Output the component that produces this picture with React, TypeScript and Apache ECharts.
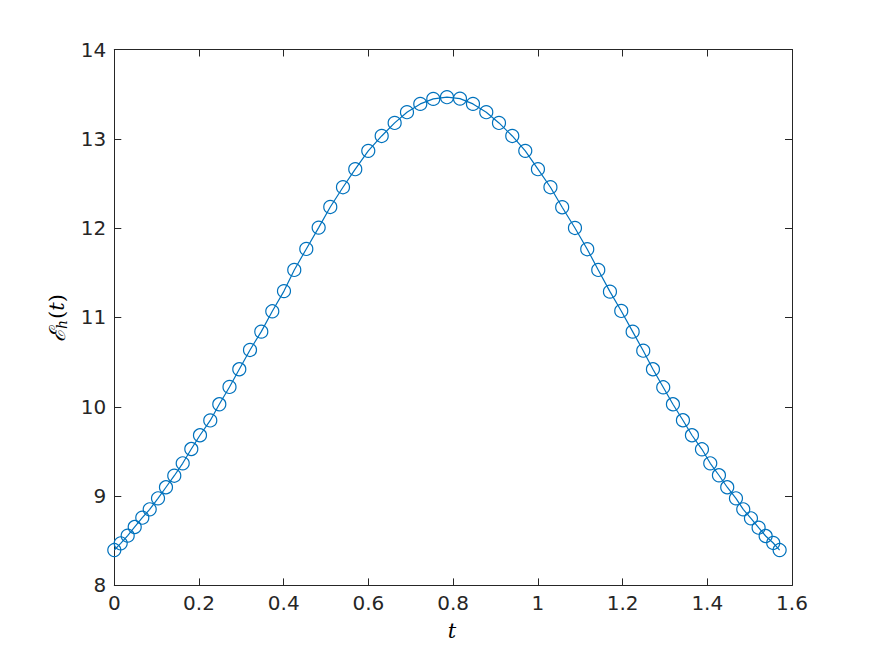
import React, { useEffect, useRef } from "react";
import * as echarts from "echarts";

const tValues = [
  0, 0.0151, 0.0316, 0.0482, 0.0661, 0.0836, 0.1032, 0.122, 0.1416, 0.1615,
  0.1818, 0.2023, 0.2266, 0.2479, 0.272, 0.2951, 0.3204, 0.347, 0.373, 0.4006,
  0.4249, 0.4533, 0.4825, 0.5099, 0.5399, 0.5689, 0.5996, 0.6313, 0.6619, 0.691,
  0.7224, 0.7531, 0.7854, 0.8161, 0.8468, 0.8782, 0.9082, 0.9396, 0.9703, 1.0002,
  1.0297, 1.0574, 1.0876, 1.1166, 1.1426, 1.1702, 1.1969, 1.2238, 1.2488, 1.2717,
  1.296, 1.3189, 1.3425, 1.3638, 1.3874, 1.407, 1.4275, 1.4471, 1.4677, 1.4849,
  1.5031, 1.5212, 1.5378, 1.5557, 1.5708,
];

const energyValues = [
  8.396, 8.471, 8.557, 8.654, 8.758, 8.852, 8.975, 9.099, 9.228, 9.367,
  9.527, 9.681, 9.847, 10.028, 10.222, 10.42, 10.636, 10.841, 11.069, 11.295,
  11.532, 11.767, 12.006, 12.237, 12.458, 12.66, 12.865, 13.032, 13.178, 13.298,
  13.391, 13.447, 13.466, 13.45, 13.391, 13.298, 13.178, 13.032, 12.865, 12.66,
  12.458, 12.234, 12.002, 11.764, 11.532, 11.289, 11.073, 10.841, 10.628, 10.42,
  10.218, 10.028, 9.849, 9.681, 9.524, 9.367, 9.233, 9.099, 8.975, 8.852,
  8.751, 8.646, 8.553, 8.475, 8.396,
];

const xTicks = { min: 0, max: 1.6, interval: 0.2 };
const yTicks = { min: 8, max: 14, interval: 1 };

const AXIS_COLOR = "#262626";
const LINE_COLOR = "#0072BD";
const FONT = "'DejaVu Sans', sans-serif";

export default function App() {
  const ref = useRef<HTMLDivElement>(null);

  useEffect(() => {
    if (!ref.current) return;
    const chart = echarts.init(ref.current, undefined, { renderer: "svg" });
    const data = tValues.map((t, i) => [t, energyValues[i]]);

    const axisCommon = {
      axisLine: { show: true, onZero: false, lineStyle: { color: AXIS_COLOR, width: 1 } },
      axisTick: { show: true, inside: true, length: 7, lineStyle: { color: AXIS_COLOR, width: 1 } },
      splitLine: { show: false },
    };

    chart.setOption({
      animation: false,
      backgroundColor: "#ffffff",
      grid: { left: 114.3, right: 83, top: 49.5, bottom: 70.6, containLabel: false },
      xAxis: [
        {
          type: "value",
          ...xTicks,
          position: "bottom",
          ...axisCommon,
          axisLabel: {
            show: true,
            color: AXIS_COLOR,
            fontSize: 20,
            fontFamily: FONT,
            margin: 8,
            formatter: (v: number) => String(Math.round(v * 10) / 10),
          },
        },
        {
          type: "value",
          ...xTicks,
          position: "top",
          ...axisCommon,
          axisLabel: { show: false },
        },
      ],
      yAxis: [
        {
          type: "value",
          ...yTicks,
          position: "left",
          ...axisCommon,
          axisLabel: {
            show: true,
            color: AXIS_COLOR,
            fontSize: 20,
            fontFamily: FONT,
            margin: 8,
          },
        },
        {
          type: "value",
          ...yTicks,
          position: "right",
          ...axisCommon,
          axisLabel: { show: false },
        },
      ],
      graphic: [
        {
          type: "text",
          x: 452,
          y: 631,
          style: {
            text: "t",
            font: "italic 21px 'DejaVu Serif', serif",
            fill: "#000000",
            textAlign: "center",
            textVerticalAlign: "middle",
          },
        },
        {
          type: "text",
          x: 57,
          y: 318,
          rotation: Math.PI / 2,
          style: {
            text: "{e|ℰ}{s|h}{p|(}{t|t}{p|)}",
            textAlign: "center",
            textVerticalAlign: "middle",
            fill: "#000000",
            rich: {
              e: { font: "italic 22px 'DejaVu Serif', serif", fill: "#000" },
              s: { font: "italic 14px 'DejaVu Serif', serif", fill: "#000", padding: [10, 1, 0, 0] },
              p: { font: "21px 'DejaVu Serif', serif", fill: "#000" },
              t: { font: "italic 21px 'DejaVu Serif', serif", fill: "#000" },
            },
          },
        },
      ],
      series: [
        {
          type: "line",
          xAxisIndex: 0,
          yAxisIndex: 0,
          data,
          smooth: false,
          symbol: "circle",
          symbolSize: 13,
          showSymbol: true,
          lineStyle: { color: LINE_COLOR, width: 1.2 },
          itemStyle: { color: "rgba(0,0,0,0)", borderColor: LINE_COLOR, borderWidth: 1.2 },
          emphasis: { disabled: true },
        },
      ],
    });

    return () => chart.dispose();
  }, []);

  return (
    <div
      ref={ref}
      style={{ position: "fixed", left: 0, top: 0, width: 875, height: 656, background: "#fff" }}
    />
  );
}
